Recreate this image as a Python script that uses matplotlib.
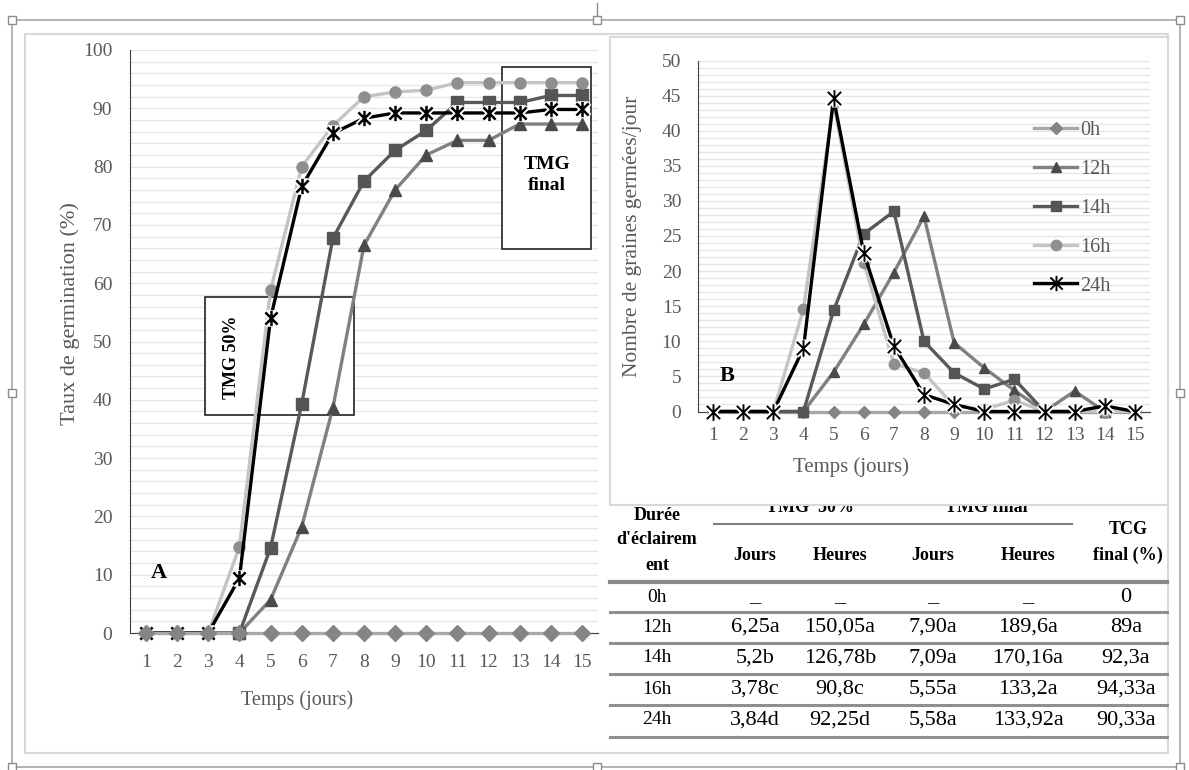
import numpy as np
import matplotlib
matplotlib.use("Agg")
import matplotlib.pyplot as plt
from matplotlib.patches import Rectangle
from matplotlib.lines import Line2D
from matplotlib.path import Path

plt.rcParams['font.family'] = ['Liberation Serif', 'DejaVu Serif']

W, H = 1189, 770

# ── Données ───────────────────────────────────────────────────────
jours = list(range(1, 16))

# A : taux de germination cumulé (%)
taux_0h  = [0, 0, 0, 0, 0, 0, 0, 0, 0, 0, 0, 0, 0, 0, 0]
taux_12h = [0, 0, 0, 0, 5.7, 18.2, 38.6, 66.5, 76.0, 82.0, 84.5, 84.5, 87.3, 87.3, 87.3]
taux_14h = [0, 0, 0, 0, 14.6, 39.3, 67.7, 77.5, 82.8, 86.2, 91.0, 91.0, 91.0, 92.2, 92.2]
taux_16h = [0, 0, 0, 14.8, 58.8, 80.0, 87.0, 92.0, 92.8, 93.1, 94.4, 94.4, 94.4, 94.4, 94.4]
taux_24h = [0, 0, 0, 9.4, 54.0, 76.6, 85.7, 88.3, 89.2, 89.2, 89.2, 89.2, 89.2, 89.8, 89.8]

# B : nombre de graines germées par jour
nb_0h  = [0, 0, 0, 0, 0, 0, 0, 0, 0, 0, 0, 0, 0, 0, 0]
nb_12h = [0, 0, 0, 0, 5.6, 12.4, 19.8, 27.8, 9.8, 6.2, 3.0, 0, 2.9, 0, 0]
nb_14h = [0, 0, 0, 0, 14.4, 25.3, 28.5, 10.0, 5.5, 3.2, 4.6, 0, 0, 0, 0]
nb_16h = [0, 0, 0, 14.6, 44.0, 21.2, 6.8, 5.5, 0.8, 0.3, 1.6, 0, 0, 0, 0]
nb_24h = [0, 0, 0, 9.0, 44.6, 22.6, 9.3, 2.4, 1.0, 0, 0, 0, 0, 0.8, 0]

# Tableau
durees       = ["0h", "12h", "14h", "16h", "24h"]
tmg50_jours  = ["_", "6,25a", "5,2b", "3,78c", "3,84d"]
tmg50_heures = ["_", "150,05a", "126,78b", "90,8c", "92,25d"]
tmgf_jours   = ["_", "7,90a", "7,09a", "5,55a", "5,58a"]
tmgf_heures  = ["_", "189,6a", "170,16a", "133,2a", "133,92a"]
tcg_final    = ["0", "89a", "92,3a", "94,33a", "90,33a"]

# ── Styles ────────────────────────────────────────────────────────
etoile = Path([(0, -1), (0, 1), (-0.8, -0.8), (0.8, 0.8), (-0.8, 0.8), (0.8, -0.8)],
              [Path.MOVETO, Path.LINETO, Path.MOVETO, Path.LINETO, Path.MOVETO, Path.LINETO])

STY = {
    "0h":  dict(color="#a8a8a8", marker="D", mfc="#858585", mec="#858585"),
    "12h": dict(color="#808080", marker="^", mfc="#4a4a4a", mec="#4a4a4a"),
    "14h": dict(color="#595959", marker="s", mfc="#555555", mec="#555555"),
    "16h": dict(color="#c4c4c4", marker="o", mfc="#8f8f8f", mec="#8f8f8f"),
}
GRIS_TXT = "#595959"
GRID = "#e6e6e6"

fig = plt.figure(figsize=(W / 100, H / 100), dpi=100)

def fx(px):
    return px / W

def fy(py):
    return 1 - py / H

# ── Fond : cadres, poignées, tableau ──────────────────────────────
bg = fig.add_axes([0, 0, 1, 1], zorder=-5)
bg.set_xlim(0, W)
bg.set_ylim(H, 0)
bg.axis("off")

bg.add_patch(Rectangle((12, 20), 1168, 747, fill=False, ec="#a6a6a6", lw=1.2))
for (hx, hy) in [(12, 20), (597, 20), (1180, 20), (12, 393), (1180, 393),
                 (12, 767), (597, 767), (1180, 767)]:
    bg.add_patch(Rectangle((hx - 4, hy - 4), 8, 8, fc="white", ec="#8c8c8c", lw=1.0, zorder=5))
bg.plot([597, 597], [3, 16], color="#8c8c8c", lw=1.0)
bg.add_patch(Rectangle((25, 34), 1143, 719, fill=False, ec="#d9d9d9", lw=1.5))

# tableau
cols_x = [657, 755, 840, 933, 1028, 1126]
rows_y = [597, 627, 658, 689, 720]
hb = dict(ha="center", va="center", fontsize=13, fontweight="bold", zorder=2)
bg.text(657, 515, "Durée", **hb)
bg.text(657, 540, "d'éclairem", **hb)
bg.text(657, 566, "ent", **hb)
bg.text(810, 508, "TMG  50%", **hb)
bg.text(986, 508, "TMG final", **hb)
bg.text(1128, 529, "TCG", **hb)
bg.text(1128, 555, "final (%)", **hb)
for cx, lab in zip(cols_x[1:5], ["Jours", "Heures", "Jours", "Heures"]):
    bg.text(cx, 555, lab, **hb)
bg.plot([714, 1072], [524, 524], color="#808080", lw=1.5)
bg.plot([610, 1167], [582, 582], color="#8a8a8a", lw=3.0)
for ly in [612, 643, 674, 705, 737]:
    bg.plot([610, 1167], [ly, ly], color="#8f8f8f", lw=2.2)
colonnes = [durees, tmg50_jours, tmg50_heures, tmgf_jours, tmgf_heures, tcg_final]
for j, col in enumerate(colonnes):
    for i, val in enumerate(col):
        fs = 14 if j == 0 else 16
        bg.text(cols_x[j], rows_y[i], val, ha="center", va="center", fontsize=fs)

# cadre du graphique B (masque le haut des en-têtes)
bg.add_patch(Rectangle((610, 37), 558, 468, fc="white", ec="#d9d9d9", lw=1.5, zorder=4))

# ── Graphique A ───────────────────────────────────────────────────
axA = fig.add_axes([fx(130.4), fy(633), fx(597.6) - fx(130.4), fy(50) - fy(633)], zorder=2)
axA.set_facecolor("none")
axA.set_xlim(0.5, 15.5)
axA.set_ylim(0, 100)
axA.set_xticks(jours)
axA.set_yticks(range(0, 101, 10))
axA.set_yticks(range(0, 101, 2), minor=True)
axA.grid(True, axis="y", which="both", color=GRID, lw=1.0, zorder=0)
axA.set_axisbelow(True)
for s in ["top", "right"]:
    axA.spines[s].set_visible(False)
axA.spines["left"].set_color("#404040")
axA.spines["bottom"].set_color("#404040")
axA.tick_params(axis="both", which="both", length=0, labelsize=14, labelcolor=GRIS_TXT)
axA.tick_params(axis="x", pad=15)
axA.tick_params(axis="y", pad=13)

for nom, vals in [("12h", taux_12h), ("14h", taux_14h), ("16h", taux_16h)]:
    axA.plot(jours, vals, lw=2.4, ms=8, clip_on=False, zorder=3, **STY[nom])
axA.plot(jours, taux_24h, color="black", lw=2.4, clip_on=False, zorder=4)
axA.plot(jours, taux_24h, ls="none", marker=etoile, ms=12, mfc="none", mec="white",
         mew=4.5, clip_on=False, zorder=4.1)
axA.plot(jours, taux_24h, ls="none", marker=etoile, ms=11, mfc="none", mec="black",
         mew=1.8, clip_on=False, zorder=4.2)
axA.plot(jours, taux_0h, lw=2.4, ms=8, clip_on=False, zorder=5, **STY["0h"])

axA.add_patch(Rectangle((fx(205), fy(415)), fx(354) - fx(205), fy(297) - fy(415),
                        transform=fig.transFigure, fc="white", ec="#222222", lw=1.2,
                        zorder=1, clip_on=False))
axA.add_patch(Rectangle((fx(502), fy(249)), fx(591) - fx(502), fy(67) - fy(249),
                        transform=fig.transFigure, fc="white", ec="#222222", lw=1.2,
                        zorder=1, clip_on=False))
fig.text(fx(232), fy(357), "TMG 50%", rotation=90, ha="center", va="center",
         fontsize=13, fontweight="bold")
fig.text(fx(547), fy(175), "TMG\nfinal", ha="center", va="center", fontsize=14,
         fontweight="bold", linespacing=1.25)
fig.text(fx(159), fy(573), "A", ha="center", va="center", fontsize=16, fontweight="bold")
fig.text(fx(297), fy(700), "Temps (jours)", ha="center", va="center", fontsize=14.5,
         color=GRIS_TXT)
fig.text(fx(70), fy(314), "Taux de germination (%)", rotation=90, ha="center",
         va="center", fontsize=16, color=GRIS_TXT)

# ── Graphique B ───────────────────────────────────────────────────
axB = fig.add_axes([fx(698), fy(411.5), fx(1150) - fx(698), fy(60.5) - fy(411.5)], zorder=3)
axB.set_facecolor("none")
axB.set_xlim(0.5, 15.5)
axB.set_ylim(0, 50)
axB.set_xticks(jours)
axB.set_yticks(range(0, 51, 5))
axB.set_yticks(range(0, 51, 1), minor=True)
axB.grid(True, axis="y", which="both", color=GRID, lw=1.0)
axB.set_axisbelow(True)
for s in ["top", "right"]:
    axB.spines[s].set_visible(False)
axB.spines["left"].set_color("#404040")
axB.spines["bottom"].set_color("#404040")
axB.tick_params(axis="both", which="both", length=0, labelsize=14, labelcolor=GRIS_TXT)
axB.tick_params(axis="x", pad=11)
axB.tick_params(axis="y", pad=12)

handles = []
for nom, vals in [("0h", nb_0h), ("12h", nb_12h), ("14h", nb_14h), ("16h", nb_16h)]:
    ms = 6 if nom == "0h" else 7.5
    l, = axB.plot(jours, vals, lw=2.4, ms=ms, clip_on=False, zorder=3, label=nom, **STY[nom])
    handles.append(l)
axB.plot(jours, nb_24h, color="black", lw=2.4, clip_on=False, zorder=4)
axB.plot(jours, nb_24h, ls="none", marker=etoile, ms=13, mfc="none", mec="white",
         mew=4.0, clip_on=False, zorder=4.1)
axB.plot(jours, nb_24h, ls="none", marker=etoile, ms=12, mfc="none", mec="black",
         mew=1.4, clip_on=False, zorder=4.2)
handles.append(Line2D([], [], color="black", lw=2.4, marker=etoile, ms=11, mfc="none",
                      mec="black", mew=1.4))

leg = axB.legend(handles, ["0h", "12h", "14h", "16h", "24h"], loc="upper left",
                 bbox_to_anchor=(fx(1024), fy(111)), bbox_transform=fig.transFigure,
                 frameon=False, fontsize=14.5, labelspacing=0.98, handlelength=2.15,
                 handletextpad=0.15, numpoints=1, borderpad=0)
for t in leg.get_texts():
    t.set_color(GRIS_TXT)

fig.text(fx(727), fy(376), "B", ha="center", va="center", fontsize=16, fontweight="bold")
fig.text(fx(851), fy(467), "Temps (jours)", ha="center", va="center", fontsize=15,
         color=GRIS_TXT)
fig.text(fx(633), fy(236), "Nombre de graines germées/jour", rotation=90, ha="center",
         va="center", fontsize=15.5, color=GRIS_TXT)

fig.savefig("out.png", dpi=100)
